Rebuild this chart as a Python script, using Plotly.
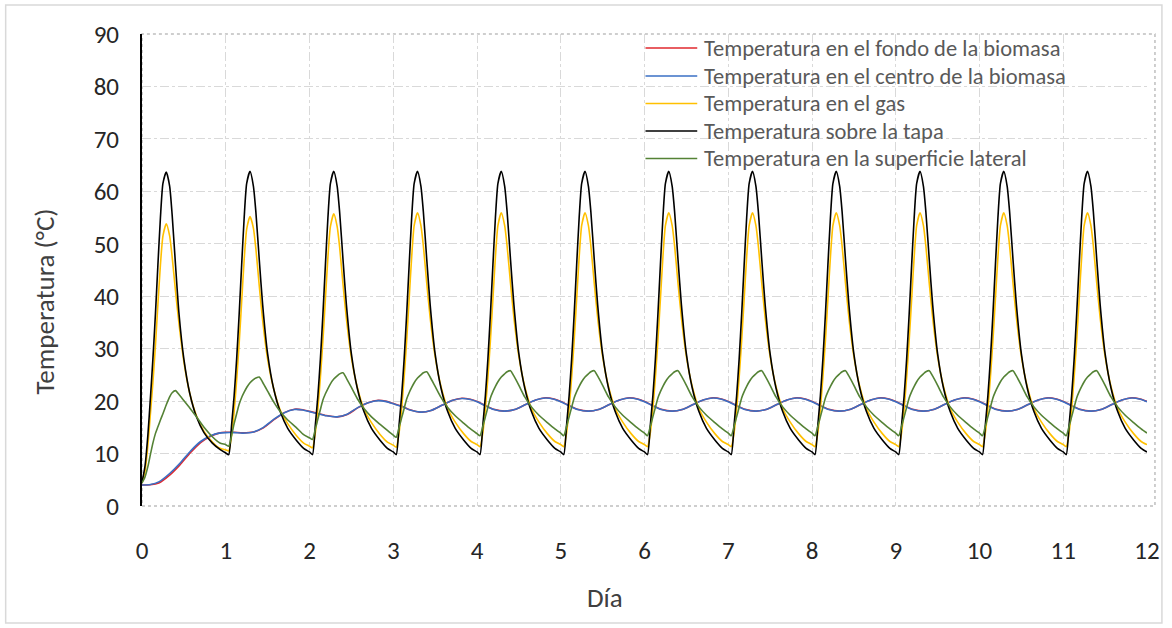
import plotly.graph_objects as go

# Sampling instants inside each day (fraction of a day) for the fast-changing series
day_offsets = [0.00, 0.035, 0.07, 0.10, 0.13, 0.16, 0.19, 0.22, 0.25, 0.29,
               0.33, 0.36, 0.40, 0.44, 0.50, 0.57, 0.65, 0.74, 0.84, 0.93]

# Temperature on the lid (°C), one row per day
temp_tapa = [
    [4.5, 7.5, 13.5, 20.5, 28.0, 36.5, 46.0, 55.0, 61.5, 63.7, 61.0, 55.5, 46.0, 37.0, 28.0, 21.5, 17.0, 14.0, 12.0, 10.8],
    [10.1, 9.8, 15.5, 21.0, 28.0, 36.5, 46.0, 55.0, 61.5, 63.8, 61.0, 56.0, 47.0, 38.5, 29.0, 22.5, 18.0, 14.8, 12.6, 11.0],
    [10.3, 9.8, 15.5, 21.0, 28.0, 36.5, 46.0, 55.0, 61.5, 63.8, 61.0, 56.0, 47.0, 38.5, 29.0, 22.5, 18.0, 14.8, 12.6, 11.0],
    [10.3, 9.8, 15.5, 21.0, 28.0, 36.5, 46.0, 55.0, 61.5, 63.8, 61.0, 56.0, 47.0, 38.5, 29.0, 22.5, 18.0, 14.8, 12.6, 11.0],
    [10.3, 9.8, 15.5, 21.0, 28.0, 36.5, 46.0, 55.0, 61.5, 63.8, 61.0, 56.0, 47.0, 38.5, 29.0, 22.5, 18.0, 14.8, 12.6, 11.0],
    [10.3, 9.8, 15.5, 21.0, 28.0, 36.5, 46.0, 55.0, 61.5, 63.8, 61.0, 56.0, 47.0, 38.5, 29.0, 22.5, 18.0, 14.8, 12.6, 11.0],
    [10.3, 9.8, 15.5, 21.0, 28.0, 36.5, 46.0, 55.0, 61.5, 63.8, 61.0, 56.0, 47.0, 38.5, 29.0, 22.5, 18.0, 14.8, 12.6, 11.0],
    [10.3, 9.8, 15.5, 21.0, 28.0, 36.5, 46.0, 55.0, 61.5, 63.8, 61.0, 56.0, 47.0, 38.5, 29.0, 22.5, 18.0, 14.8, 12.6, 11.0],
    [10.3, 9.8, 15.5, 21.0, 28.0, 36.5, 46.0, 55.0, 61.5, 63.8, 61.0, 56.0, 47.0, 38.5, 29.0, 22.5, 18.0, 14.8, 12.6, 11.0],
    [10.3, 9.8, 15.5, 21.0, 28.0, 36.5, 46.0, 55.0, 61.5, 63.8, 61.0, 56.0, 47.0, 38.5, 29.0, 22.5, 18.0, 14.8, 12.6, 11.0],
    [10.3, 9.8, 15.5, 21.0, 28.0, 36.5, 46.0, 55.0, 61.5, 63.8, 61.0, 56.0, 47.0, 38.5, 29.0, 22.5, 18.0, 14.8, 12.6, 11.0],
    [10.3, 9.8, 15.5, 21.0, 28.0, 36.5, 46.0, 55.0, 61.5, 63.8, 61.0, 56.0, 47.0, 38.5, 29.0, 22.5, 18.0, 14.8, 12.6, 11.0],
]
temp_tapa_end = 10.3

# Gas temperature (°C), one row per day
temp_gas = [
    [4.4, 6.5, 11.5, 17.5, 23.5, 30.5, 38.5, 46.0, 51.5, 53.8, 51.5, 47.5, 41.0, 35.0, 27.5, 21.5, 17.2, 14.2, 12.2, 11.0],
    [10.7, 10.5, 13.5, 18.0, 24.0, 31.0, 39.0, 47.0, 52.8, 55.2, 53.0, 49.0, 42.0, 35.5, 28.0, 22.5, 18.3, 15.7, 13.5, 12.0],
    [11.4, 11.1, 14.0, 18.5, 24.5, 31.5, 39.5, 47.5, 53.3, 55.7, 53.3, 49.3, 42.3, 35.8, 28.3, 22.7, 18.5, 15.9, 13.7, 12.2],
    [11.6, 11.2, 14.0, 18.5, 24.5, 31.5, 39.5, 47.5, 53.5, 55.9, 53.5, 49.5, 42.5, 36.0, 28.5, 22.8, 18.6, 16.0, 13.8, 12.3],
    [11.7, 11.3, 14.0, 18.5, 24.5, 31.5, 39.5, 47.5, 53.5, 55.9, 53.5, 49.5, 42.5, 36.0, 28.5, 22.8, 18.6, 16.0, 13.8, 12.3],
    [11.7, 11.3, 14.0, 18.5, 24.5, 31.5, 39.5, 47.5, 53.5, 55.9, 53.5, 49.5, 42.5, 36.0, 28.5, 22.8, 18.6, 16.0, 13.8, 12.3],
    [11.7, 11.3, 14.0, 18.5, 24.5, 31.5, 39.5, 47.5, 53.5, 55.9, 53.5, 49.5, 42.5, 36.0, 28.5, 22.8, 18.6, 16.0, 13.8, 12.3],
    [11.7, 11.3, 14.0, 18.5, 24.5, 31.5, 39.5, 47.5, 53.5, 55.9, 53.5, 49.5, 42.5, 36.0, 28.5, 22.8, 18.6, 16.0, 13.8, 12.3],
    [11.7, 11.3, 14.0, 18.5, 24.5, 31.5, 39.5, 47.5, 53.5, 55.9, 53.5, 49.5, 42.5, 36.0, 28.5, 22.8, 18.6, 16.0, 13.8, 12.3],
    [11.7, 11.3, 14.0, 18.5, 24.5, 31.5, 39.5, 47.5, 53.5, 55.9, 53.5, 49.5, 42.5, 36.0, 28.5, 22.8, 18.6, 16.0, 13.8, 12.3],
    [11.7, 11.3, 14.0, 18.5, 24.5, 31.5, 39.5, 47.5, 53.5, 55.9, 53.5, 49.5, 42.5, 36.0, 28.5, 22.8, 18.6, 16.0, 13.8, 12.3],
    [11.7, 11.3, 14.0, 18.5, 24.5, 31.5, 39.5, 47.5, 53.5, 55.9, 53.5, 49.5, 42.5, 36.0, 28.5, 22.8, 18.6, 16.0, 13.8, 12.3],
]
temp_gas_end = 11.7

# Side-surface temperature (°C), one row per day
temp_lateral = [
    [4.4, 5.5, 7.5, 9.8, 12.0, 13.8, 15.1, 16.4, 17.6, 19.3, 20.8, 21.6, 22.0, 21.3, 20.1, 18.7, 17.0, 15.0, 13.2, 12.0],
    [11.7, 11.4, 13.5, 15.7, 17.6, 19.4, 20.7, 21.7, 22.6, 23.5, 24.1, 24.4, 24.6, 23.6, 21.9, 19.9, 18.0, 16.4, 15.0, 13.6],
    [13.0, 12.7, 14.7, 16.6, 18.4, 20.2, 21.4, 22.4, 23.3, 24.2, 24.8, 25.2, 25.4, 24.4, 22.6, 20.5, 18.6, 17.0, 15.6, 14.4],
    [13.5, 13.1, 15.0, 16.8, 18.6, 20.4, 21.6, 22.6, 23.5, 24.4, 25.0, 25.4, 25.6, 24.6, 22.8, 20.7, 18.8, 17.2, 15.8, 14.6],
    [13.8, 13.4, 15.2, 17.0, 18.8, 20.6, 21.8, 22.8, 23.7, 24.6, 25.2, 25.6, 25.8, 24.8, 23.0, 20.8, 18.9, 17.3, 15.9, 14.7],
    [13.9, 13.4, 15.2, 17.0, 18.8, 20.6, 21.8, 22.8, 23.7, 24.6, 25.2, 25.6, 25.8, 24.8, 23.0, 20.8, 18.9, 17.3, 15.9, 14.7],
    [13.9, 13.4, 15.2, 17.0, 18.8, 20.6, 21.8, 22.8, 23.7, 24.6, 25.2, 25.6, 25.8, 24.8, 23.0, 20.8, 18.9, 17.3, 15.9, 14.7],
    [13.9, 13.4, 15.2, 17.0, 18.8, 20.6, 21.8, 22.8, 23.7, 24.6, 25.2, 25.6, 25.8, 24.8, 23.0, 20.8, 18.9, 17.3, 15.9, 14.7],
    [13.9, 13.4, 15.2, 17.0, 18.8, 20.6, 21.8, 22.8, 23.7, 24.6, 25.2, 25.6, 25.8, 24.8, 23.0, 20.8, 18.9, 17.3, 15.9, 14.7],
    [13.9, 13.4, 15.2, 17.0, 18.8, 20.6, 21.8, 22.8, 23.7, 24.6, 25.2, 25.6, 25.8, 24.8, 23.0, 20.8, 18.9, 17.3, 15.9, 14.7],
    [13.9, 13.4, 15.2, 17.0, 18.8, 20.6, 21.8, 22.8, 23.7, 24.6, 25.2, 25.6, 25.8, 24.8, 23.0, 20.8, 18.9, 17.3, 15.9, 14.7],
    [13.9, 13.4, 15.2, 17.0, 18.8, 20.6, 21.8, 22.8, 23.7, 24.6, 25.2, 25.6, 25.8, 24.8, 23.0, 20.8, 18.9, 17.3, 15.9, 14.7],
]
temp_lateral_end = 13.9

# Slow biomass temperatures are sampled more coarsely
biomass_offsets = [0.00, 0.10, 0.20, 0.33, 0.45, 0.58, 0.70, 0.82, 0.92]

temp_centro = [
    [4.0, 4.1, 4.6, 6.2, 8.1, 10.5, 12.3, 13.4, 13.9],
    [14.0, 14.0, 13.9, 14.1, 15.0, 16.6, 17.8, 18.4, 18.3],
    [18.0, 17.6, 17.2, 17.0, 17.5, 18.8, 19.7, 20.1, 19.9],
    [19.5, 19.0, 18.3, 17.9, 18.2, 19.2, 20.1, 20.5, 20.3],
    [19.9, 19.1, 18.4, 18.1, 18.4, 19.35, 20.2, 20.6, 20.35],
    [19.9, 19.1, 18.4, 18.1, 18.4, 19.35, 20.2, 20.6, 20.35],
    [19.9, 19.1, 18.4, 18.1, 18.4, 19.35, 20.2, 20.6, 20.35],
    [19.9, 19.1, 18.4, 18.1, 18.4, 19.35, 20.2, 20.6, 20.35],
    [19.9, 19.1, 18.4, 18.1, 18.4, 19.35, 20.2, 20.6, 20.35],
    [19.9, 19.1, 18.4, 18.1, 18.4, 19.35, 20.2, 20.6, 20.35],
    [19.9, 19.1, 18.4, 18.1, 18.4, 19.35, 20.2, 20.6, 20.35],
    [19.9, 19.1, 18.4, 18.1, 18.4, 19.35, 20.2, 20.6, 20.35],
]
temp_centro_end = 19.9

temp_fondo = [
    [4.0, 4.05, 4.4, 5.9, 7.8, 10.2, 12.1, 13.3, 13.9],
    [14.05, 14.05, 13.95, 14.1, 14.9, 16.5, 17.8, 18.45, 18.35],
    [18.05, 17.65, 17.25, 17.0, 17.45, 18.75, 19.7, 20.15, 19.95],
    [19.55, 19.05, 18.35, 17.9, 18.2, 19.2, 20.1, 20.55, 20.35],
    [19.95, 19.15, 18.45, 18.1, 18.4, 19.35, 20.2, 20.65, 20.4],
    [19.95, 19.15, 18.45, 18.1, 18.4, 19.35, 20.2, 20.65, 20.4],
    [19.95, 19.15, 18.45, 18.1, 18.4, 19.35, 20.2, 20.65, 20.4],
    [19.95, 19.15, 18.45, 18.1, 18.4, 19.35, 20.2, 20.65, 20.4],
    [19.95, 19.15, 18.45, 18.1, 18.4, 19.35, 20.2, 20.65, 20.4],
    [19.95, 19.15, 18.45, 18.1, 18.4, 19.35, 20.2, 20.65, 20.4],
    [19.95, 19.15, 18.45, 18.1, 18.4, 19.35, 20.2, 20.65, 20.4],
    [19.95, 19.15, 18.45, 18.1, 18.4, 19.35, 20.2, 20.65, 20.4],
]
temp_fondo_end = 19.95

series_names = [
    "Temperatura en el fondo de la biomasa",
    "Temperatura en el centro de la biomasa",
    "Temperatura en el gas",
    "Temperatura sobre la tapa",
    "Temperatura en la superficie lateral",
]
series_colors = ["#E0282E", "#3A6FC4", "#FFC000", "#000000", "#548235"]

x_ticks = list(range(0, 13))
y_ticks = list(range(0, 91, 10))


def flatten(rows, offsets, end_value):
    t, v = [], []
    for day, row in enumerate(rows):
        for off, val in zip(offsets, row):
            t.append(day + off)
            v.append(val)
    t.append(len(rows))
    v.append(end_value)
    return t, v


traces = [
    flatten(temp_fondo, biomass_offsets, temp_fondo_end),
    flatten(temp_centro, biomass_offsets, temp_centro_end),
    flatten(temp_gas, day_offsets, temp_gas_end),
    flatten(temp_tapa, day_offsets, temp_tapa_end),
    flatten(temp_lateral, day_offsets, temp_lateral_end),
]

FONT = "Calibri, Carlito, Lato, sans-serif"

W, H = 1172, 628
L, R, T, B = 142, 20, 34, 122
pw, ph = W - L - R, H - T - B


def px_x(px):
    return (px - L) / pw


def px_y(py):
    return (H - B - py) / ph


fig = go.Figure()
for (t, v), name, color in zip(traces, series_names, series_colors):
    fig.add_trace(go.Scatter(
        x=t, y=v, mode="lines", name=name, showlegend=False,
        line=dict(color=color, width=1.6, shape="spline", smoothing=0.6),
    ))

# Legend block drawn as line samples plus labels
legend_rows_px = [48, 76, 103.5, 131, 158.5]
shapes = [
    # dotted plot-area border
    dict(type="rect", xref="paper", yref="paper", x0=0, x1=px_x(1160), y0=0, y1=1,
         line=dict(color="#BFBFBF", width=1.5, dash="dot"), layer="below"),
    # light outer chart frame
    dict(type="rect", xref="paper", yref="paper",
         x0=px_x(5), x1=px_x(1167), y0=px_y(623), y1=px_y(5),
         line=dict(color="#D9D9D9", width=1.5)),
]
annotations = []
for row_y, name, color in zip(legend_rows_px, series_names, series_colors):
    shapes.append(dict(type="line", xref="paper", yref="paper",
                       x0=px_x(648), x1=px_x(700), y0=px_y(row_y), y1=px_y(row_y),
                       line=dict(color=color, width=1.6)))
    annotations.append(dict(xref="paper", yref="paper", x=px_x(705), y=px_y(row_y),
                            xanchor="left", yanchor="middle", showarrow=False,
                            text=name, font=dict(family=FONT, size=22.5, color="#595959")))

# Axis titles
annotations.append(dict(xref="paper", yref="paper", x=px_x(607), y=px_y(597),
                        xanchor="center", yanchor="middle", showarrow=False,
                        text="Día", font=dict(family=FONT, size=27, color="#404040")))
annotations.append(dict(xref="paper", yref="paper", x=px_x(45), y=px_y(301),
                        xanchor="center", yanchor="middle", showarrow=False, textangle=-90,
                        text="Temperatura (°C)", font=dict(family=FONT, size=27, color="#404040")))

fig.update_layout(
    width=W, height=H,
    margin=dict(l=L, r=R, t=T, b=B),
    paper_bgcolor="white", plot_bgcolor="white",
    font=dict(family=FONT, size=25, color="#262626"),
    showlegend=False,
    xaxis=dict(
        range=[0, 12], tickvals=x_ticks, ticktext=[str(v) for v in x_ticks],
        showgrid=True, gridcolor="#D9D9D9", griddash="dashdot", gridwidth=1.2,
        zeroline=False, showline=False, ticks="",
        ticklabelstandoff=27,
    ),
    yaxis=dict(
        range=[0, 90], tickvals=y_ticks, ticktext=[str(v) for v in y_ticks],
        showgrid=True, gridcolor="#D9D9D9", griddash="dashdot", gridwidth=1.2,
        zeroline=False, showline=True, linecolor="#000000", linewidth=2, ticks="",
        ticklabelstandoff=16,
    ),
    shapes=shapes,
    annotations=annotations,
)

fig.write_html("out.html")
